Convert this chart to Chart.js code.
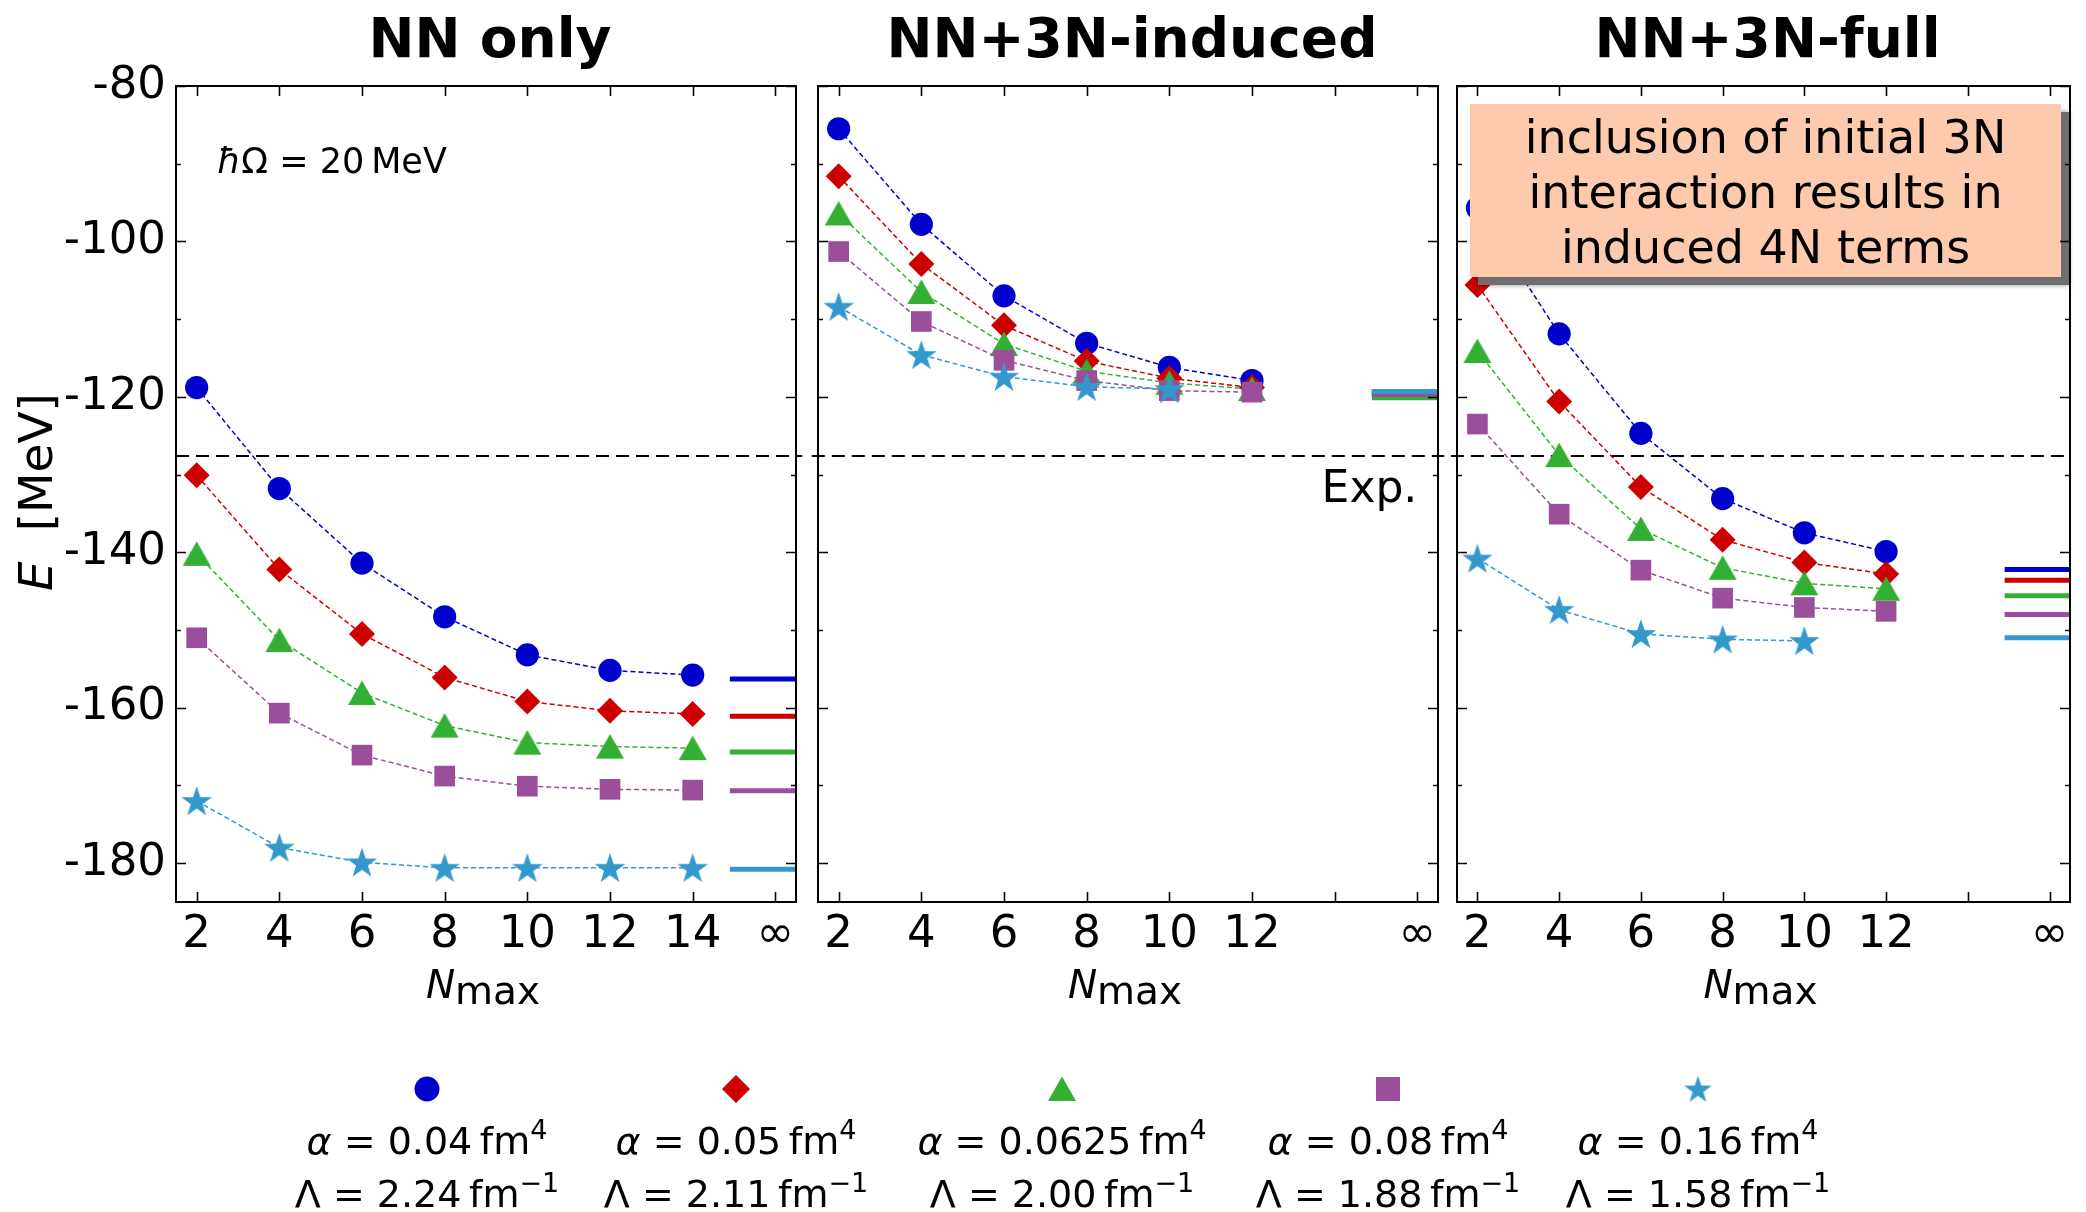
<!DOCTYPE html>
<html>
<head>
<meta charset="utf-8">
<title>Ground-state energy vs Nmax</title>
<script src="https://cdn.jsdelivr.net/npm/chart.js@4.4.1/dist/chart.umd.min.js"></script>
<style>
  html, body { margin: 0; padding: 0; background: #fff; }
  #wrap { position: relative; width: 2086px; height: 1212px; overflow: hidden; background: #fff; }
  #wrap canvas { position: absolute; top: 0; }
</style>
</head>
<body>
<div id="wrap">
  <canvas id="nnOnly" width="812" height="1030" style="left:0px"></canvas>
  <canvas id="nn3nInd" width="652" height="1030" style="left:802px"></canvas>
  <canvas id="nn3nFull" width="645" height="1030" style="left:1441px"></canvas>
  <canvas id="legend" width="2086" height="182" style="top:1030px;left:0px"></canvas>
</div>
<script>
// ==========================================
// DATA
// ==========================================

const NMAX_NN = [2, 4, 6, 8, 10, 12, 14];
const NMAX_3N = [2, 4, 6, 8, 10, 12];
const NMAX_3N_STAR = [2, 4, 6, 8, 10];

// NN only
const NN_A004 = [-118.8, -131.8, -141.4, -148.3, -153.2, -155.2, -155.8];
const NN_A005 = [-130.1, -142.2, -150.5, -156.1, -159.2, -160.4, -160.8];
const NN_A00625 = [-140.2, -151.3, -158.1, -162.3, -164.5, -165.0, -165.2];
const NN_A008 = [-151.0, -160.7, -166.1, -168.8, -170.1, -170.5, -170.6];
const NN_A016 = [-172.0, -178.0, -179.9, -180.6, -180.6, -180.6, -180.6];
const NN_INF = [-156.3, -161.1, -165.7, -170.7, -180.8];

// NN+3N-induced
const IND_A004 = [-85.5, -97.8, -107.0, -113.1, -116.2, -117.9];
const IND_A005 = [-91.6, -102.9, -110.8, -115.4, -117.6, -118.8];
const IND_A00625 = [-96.4, -106.5, -113.2, -116.7, -118.2, -119.0];
const IND_A008 = [-101.3, -110.3, -115.3, -117.9, -119.2, -119.4];
const IND_A016 = [-108.4, -114.6, -117.4, -118.7, -119.0];
const IND_INF = [-119.4, -119.5, -120.1, -119.7, -119.3];

// NN+3N-full
const FULL_A004 = [-95.7, -111.9, -124.7, -133.1, -137.5, -139.9];
const FULL_A005 = [-105.6, -120.6, -131.6, -138.4, -141.3, -142.8];
const FULL_A00625 = [-114.1, -127.5, -137.0, -142.0, -144.0, -144.7];
const FULL_A008 = [-123.5, -135.1, -142.3, -145.9, -147.1, -147.6];
const FULL_A016 = [-140.8, -147.4, -150.5, -151.2, -151.4];
const FULL_INF = [-142.2, -143.6, -145.6, -148.0, -151.0];

const EXP_E = -127.62;
const INF_X = [14.9, 16.6];

const X_TICKS = [2, 4, 6, 8, 10, 12, 14, 16];
const X_LABELS_NN = ['2', '4', '6', '8', '10', '12', '14', '\u221e'];
const X_LABELS_3N = ['2', '4', '6', '8', '10', '12', '', '\u221e'];
const Y_TICKS = [-180, -160, -140, -120, -100, -80];
const Y_MINOR = [-170, -150, -130, -110, -90];

const ALPHA = ['0.04', '0.05', '0.0625', '0.08', '0.16'];
const LAMBDA = ['2.24', '2.11', '2.00', '1.88', '1.58'];
const TITLES = ['NN only', 'NN+3N-induced', 'NN+3N-full'];
const BOX_LINES = ['inclusion of initial 3N', 'interaction results in', 'induced 4N terms'];

// ==========================================
// STYLE
// ==========================================

const FONT = '"DejaVu Sans", sans-serif';
const COLORS = ['#0000cc', '#cc0000', '#33b033', '#9b4f9b', '#3399cc'];

function markerCanvas(w, h, color, draw) {
    const c = document.createElement('canvas');
    c.width = w;
    c.height = h;
    const g = c.getContext('2d');
    g.fillStyle = color;
    g.beginPath();
    draw(g, w / 2, h / 2);
    g.closePath();
    g.fill();
    return c;
}

function starCanvas(R, color) {
    const s = Math.ceil(R * 2 + 4);
    return markerCanvas(s, s, color, (g, cx, cy) => {
        for (let k = 0; k < 10; k++) {
            const r = k % 2 ? R * 0.39 : R;
            const a = -Math.PI / 2 + k * Math.PI / 5;
            g.lineTo(cx + r * Math.cos(a), cy + r * Math.sin(a) + R * 0.08);
        }
    });
}

const TRIANGLE = markerCanvas(30, 28, COLORS[2], (g, cx, cy) => {
    g.moveTo(cx, cy - 12.5);
    g.lineTo(cx + 14, cy + 12);
    g.lineTo(cx - 14, cy + 12);
});

const STAR = starCanvas(16, COLORS[4]);
const STAR_LEGEND = starCanvas(14.5, COLORS[4]);

const MARKERS = ['circle', 'rectRot', TRIANGLE, 'rect', STAR];
const RADII = [11.6, 13, 14, 14.6, 16];

function series(xs, ys, i) {
    return {
        data: xs.map((x, k) => ({ x: x, y: ys[k] })),
        showLine: true,
        borderColor: COLORS[i],
        borderWidth: 1.5,
        borderDash: [5, 3],
        pointStyle: MARKERS[i],
        pointRadius: RADII[i],
        pointBackgroundColor: COLORS[i],
        pointBorderColor: COLORS[i],
        pointBorderWidth: 0,
        order: 20 - i
    };
}

function infLine(v, i) {
    return {
        data: INF_X.map(x => ({ x: x, y: v })),
        showLine: true,
        borderColor: COLORS[i],
        borderWidth: 5,
        pointRadius: 0,
        order: 10 - i
    };
}

function expLine(x0, x1) {
    return {
        data: [{ x: x0, y: EXP_E }, { x: x1, y: EXP_E }],
        showLine: true,
        borderColor: '#000',
        borderWidth: 2,
        borderDash: [13, 7],
        pointRadius: 0,
        clip: false,
        order: 100
    };
}

// text with italic / raised pieces, parts = [text, font, dy]
function drawRich(ctx, parts, x, y, align) {
    let w = 0;
    parts.forEach(p => { ctx.font = p[1]; w += ctx.measureText(p[0]).width; });
    let cx = align === 'center' ? x - w / 2 : (align === 'right' ? x - w : x);
    ctx.textAlign = 'left';
    ctx.textBaseline = 'alphabetic';
    parts.forEach(p => {
        ctx.font = p[1];
        ctx.fillText(p[0], cx, y + (p[2] || 0));
        cx += ctx.measureText(p[0]).width;
    });
}

// ==========================================
// FRAME PLUGIN: inward ticks, spines, labels
// ==========================================

const framePlugin = {
    id: 'frame',
    afterDatasetsDraw(chart, args, o) {
        const ctx = chart.ctx;
        const a = chart.chartArea;
        const xs = chart.scales.x;
        const ys = chart.scales.y;

        ctx.save();
        ctx.fillStyle = '#000';
        ctx.strokeStyle = '#000';

        // text box (NN+3N-full)
        if (o.box) {
            const bx = a.left + 13, by = a.top + 18, bw = 591, bh = 173;
            ctx.save();
            ctx.fillStyle = '#6e6e6e';
            ctx.shadowColor = 'rgba(0,0,0,0.45)';
            ctx.shadowBlur = 5;
            ctx.fillRect(bx + 8, by + 8, bw, bh);
            ctx.restore();
            ctx.fillStyle = '#fdcaad';
            ctx.fillRect(bx, by, bw, bh);
            ctx.fillStyle = '#000';
            ctx.font = '46px ' + FONT;
            ctx.textAlign = 'center';
            ctx.textBaseline = 'alphabetic';
            BOX_LINES.forEach((t, k) => ctx.fillText(t, bx + bw / 2, by + 49 + k * 55));
        }

        // inward ticks
        ctx.lineWidth = 1.6;
        ctx.beginPath();
        X_TICKS.forEach(v => {
            const px = Math.round(xs.getPixelForValue(v)) + 0.5;
            ctx.moveTo(px, a.bottom); ctx.lineTo(px, a.bottom - 10);
            ctx.moveTo(px, a.top); ctx.lineTo(px, a.top + 10);
        });
        Y_TICKS.forEach(v => {
            const py = Math.round(ys.getPixelForValue(v)) + 0.5;
            ctx.moveTo(a.left, py); ctx.lineTo(a.left + 10, py);
            ctx.moveTo(a.right, py); ctx.lineTo(a.right - 10, py);
        });
        Y_MINOR.forEach(v => {
            const py = Math.round(ys.getPixelForValue(v)) + 0.5;
            ctx.moveTo(a.left, py); ctx.lineTo(a.left + 5, py);
            ctx.moveTo(a.right, py); ctx.lineTo(a.right - 5, py);
        });
        ctx.stroke();

        // spines
        ctx.lineWidth = 2;
        ctx.strokeRect(a.left, a.top, a.right - a.left, a.bottom - a.top);

        // panel title
        ctx.font = 'bold 55px ' + FONT;
        ctx.textAlign = 'center';
        ctx.textBaseline = 'alphabetic';
        ctx.fillText(o.title, (a.left + a.right) / 2 + 4, 57);

        // x axis title N_max
        const midX = (a.left + a.right) / 2 - 3;
        drawRich(ctx, [['N', 'italic 39px ' + FONT], ['max', '39px ' + FONT, 6]], midX, 998, 'center');

        if (o.yTitle) {
            ctx.save();
            ctx.translate(52, (a.top + a.bottom) / 2 - 2);
            ctx.rotate(-Math.PI / 2);
            drawRich(ctx, [['E', 'italic 47px ' + FONT], ['  [MeV]', '47px ' + FONT]], 0, 0, 'center');
            ctx.restore();
        }

        if (o.hbar) {
            drawRich(ctx, [
                ['\u0127', 'italic 35px ' + FONT],
                ['\u03a9 = 20\u2009MeV', '35px ' + FONT]
            ], a.left + 41, a.top + 87, 'left');
        }

        if (o.exp) {
            ctx.font = '44px ' + FONT;
            ctx.textAlign = 'right';
            ctx.fillText('Exp.', xs.getPixelForValue(16), ys.getPixelForValue(EXP_E) + 46);
        }

        ctx.restore();
    }
};

// ==========================================
// PANELS
// ==========================================

function makePanel(id, datasets, cfg) {
    return new Chart(document.getElementById(id), {
        type: 'scatter',
        data: { datasets: datasets },
        options: {
            responsive: false,
            animation: false,
            devicePixelRatio: 1,
            events: [],
            layout: { padding: { top: 86, right: cfg.padRight, bottom: 0, left: 0 } },
            plugins: {
                legend: { display: false },
                tooltip: { enabled: false },
                frame: cfg.frame
            },
            scales: {
                x: {
                    type: 'linear',
                    min: 1.5,
                    max: 16.5,
                    grid: { display: false, drawTicks: false },
                    border: { display: false },
                    afterBuildTicks: s => { s.ticks = X_TICKS.map(v => ({ value: v })); },
                    ticks: {
                        autoSkip: false,
                        maxRotation: 0,
                        minRotation: 0,
                        padding: 6,
                        color: '#000',
                        font: { family: FONT, size: 45 },
                        callback: v => cfg.xLabels[X_TICKS.indexOf(v)]
                    },
                    afterFit: s => { s.height = 128; s.paddingLeft = 0; s.paddingRight = 0; }
                },
                y: {
                    type: 'linear',
                    min: -185,
                    max: -80,
                    grid: { display: false, drawTicks: false },
                    border: { display: false },
                    afterBuildTicks: s => { s.ticks = Y_TICKS.map(v => ({ value: v })); },
                    ticks: {
                        display: cfg.yLabels,
                        padding: 10,
                        color: '#000',
                        font: { family: FONT, size: 45 },
                        callback: v => String(v)
                    },
                    afterFit: s => { s.width = cfg.yWidth; s.paddingTop = 0; s.paddingBottom = 0; }
                }
            }
        },
        plugins: [framePlugin]
    });
}

makePanel('nnOnly', [
    series(NMAX_NN, NN_A004, 0),
    series(NMAX_NN, NN_A005, 1),
    series(NMAX_NN, NN_A00625, 2),
    series(NMAX_NN, NN_A008, 3),
    series(NMAX_NN, NN_A016, 4),
    ...NN_INF.map(infLine),
    expLine(1.5, 16.65)
], { padRight: 9, yWidth: 176, yLabels: true, xLabels: X_LABELS_NN,
     frame: { title: TITLES[0], yTitle: true, hbar: true } });

makePanel('nn3nInd', [
    series(NMAX_3N, IND_A004, 0),
    series(NMAX_3N, IND_A005, 1),
    series(NMAX_3N, IND_A00625, 2),
    series(NMAX_3N, IND_A008, 3),
    series(NMAX_3N_STAR, IND_A016, 4),
    ...IND_INF.map(infLine),
    expLine(1.35, 16.65)
], { padRight: 12, yWidth: 12, yLabels: false, xLabels: X_LABELS_3N,
     frame: { title: TITLES[1], exp: true } });

makePanel('nn3nFull', [
    series(NMAX_3N, FULL_A004, 0),
    series(NMAX_3N, FULL_A005, 1),
    series(NMAX_3N, FULL_A00625, 2),
    series(NMAX_3N, FULL_A008, 3),
    series(NMAX_3N_STAR, FULL_A016, 4),
    ...FULL_INF.map(infLine),
    expLine(1.35, 16.5)
], { padRight: 6, yWidth: 12, yLabels: false, xLabels: X_LABELS_3N,
     frame: { title: TITLES[2], box: true } });

// ==========================================
// LEGEND (marker above two text lines)
// ==========================================

function drawLegend() {
    const ctx = document.getElementById('legend').getContext('2d');
    const centers = [427, 736, 1062, 1388, 1698];
    const my = 59;
    centers.forEach((cx, i) => {
        ctx.save();
        ctx.fillStyle = COLORS[i];
        ctx.beginPath();
        const st = i === 4 ? STAR_LEGEND : MARKERS[i];
        if (st === 'circle') {
            ctx.arc(cx, my, 12.5, 0, Math.PI * 2);
            ctx.fill();
        } else if (st === 'rectRot') {
            ctx.moveTo(cx, my - 14); ctx.lineTo(cx + 14, my); ctx.lineTo(cx, my + 14); ctx.lineTo(cx - 14, my);
            ctx.closePath();
            ctx.fill();
        } else if (st === 'rect') {
            ctx.fillRect(cx - 12, my - 12, 24, 24);
        } else {
            ctx.drawImage(st, cx - st.width / 2, my - st.height / 2);
        }
        ctx.restore();

        ctx.fillStyle = '#000';
        drawRich(ctx, [
            ['\u03b1', 'italic 38px ' + FONT],
            [' = ' + ALPHA[i] + '\u2009fm', '38px ' + FONT],
            ['4', '27px ' + FONT, -15]
        ], cx, 124, 'center');
        drawRich(ctx, [
            ['\u039b = ' + LAMBDA[i] + '\u2009fm', '38px ' + FONT],
            ['\u22121', '27px ' + FONT, -15]
        ], cx, 177, 'center');
    });
}

drawLegend();
</script>
</body>
</html>
